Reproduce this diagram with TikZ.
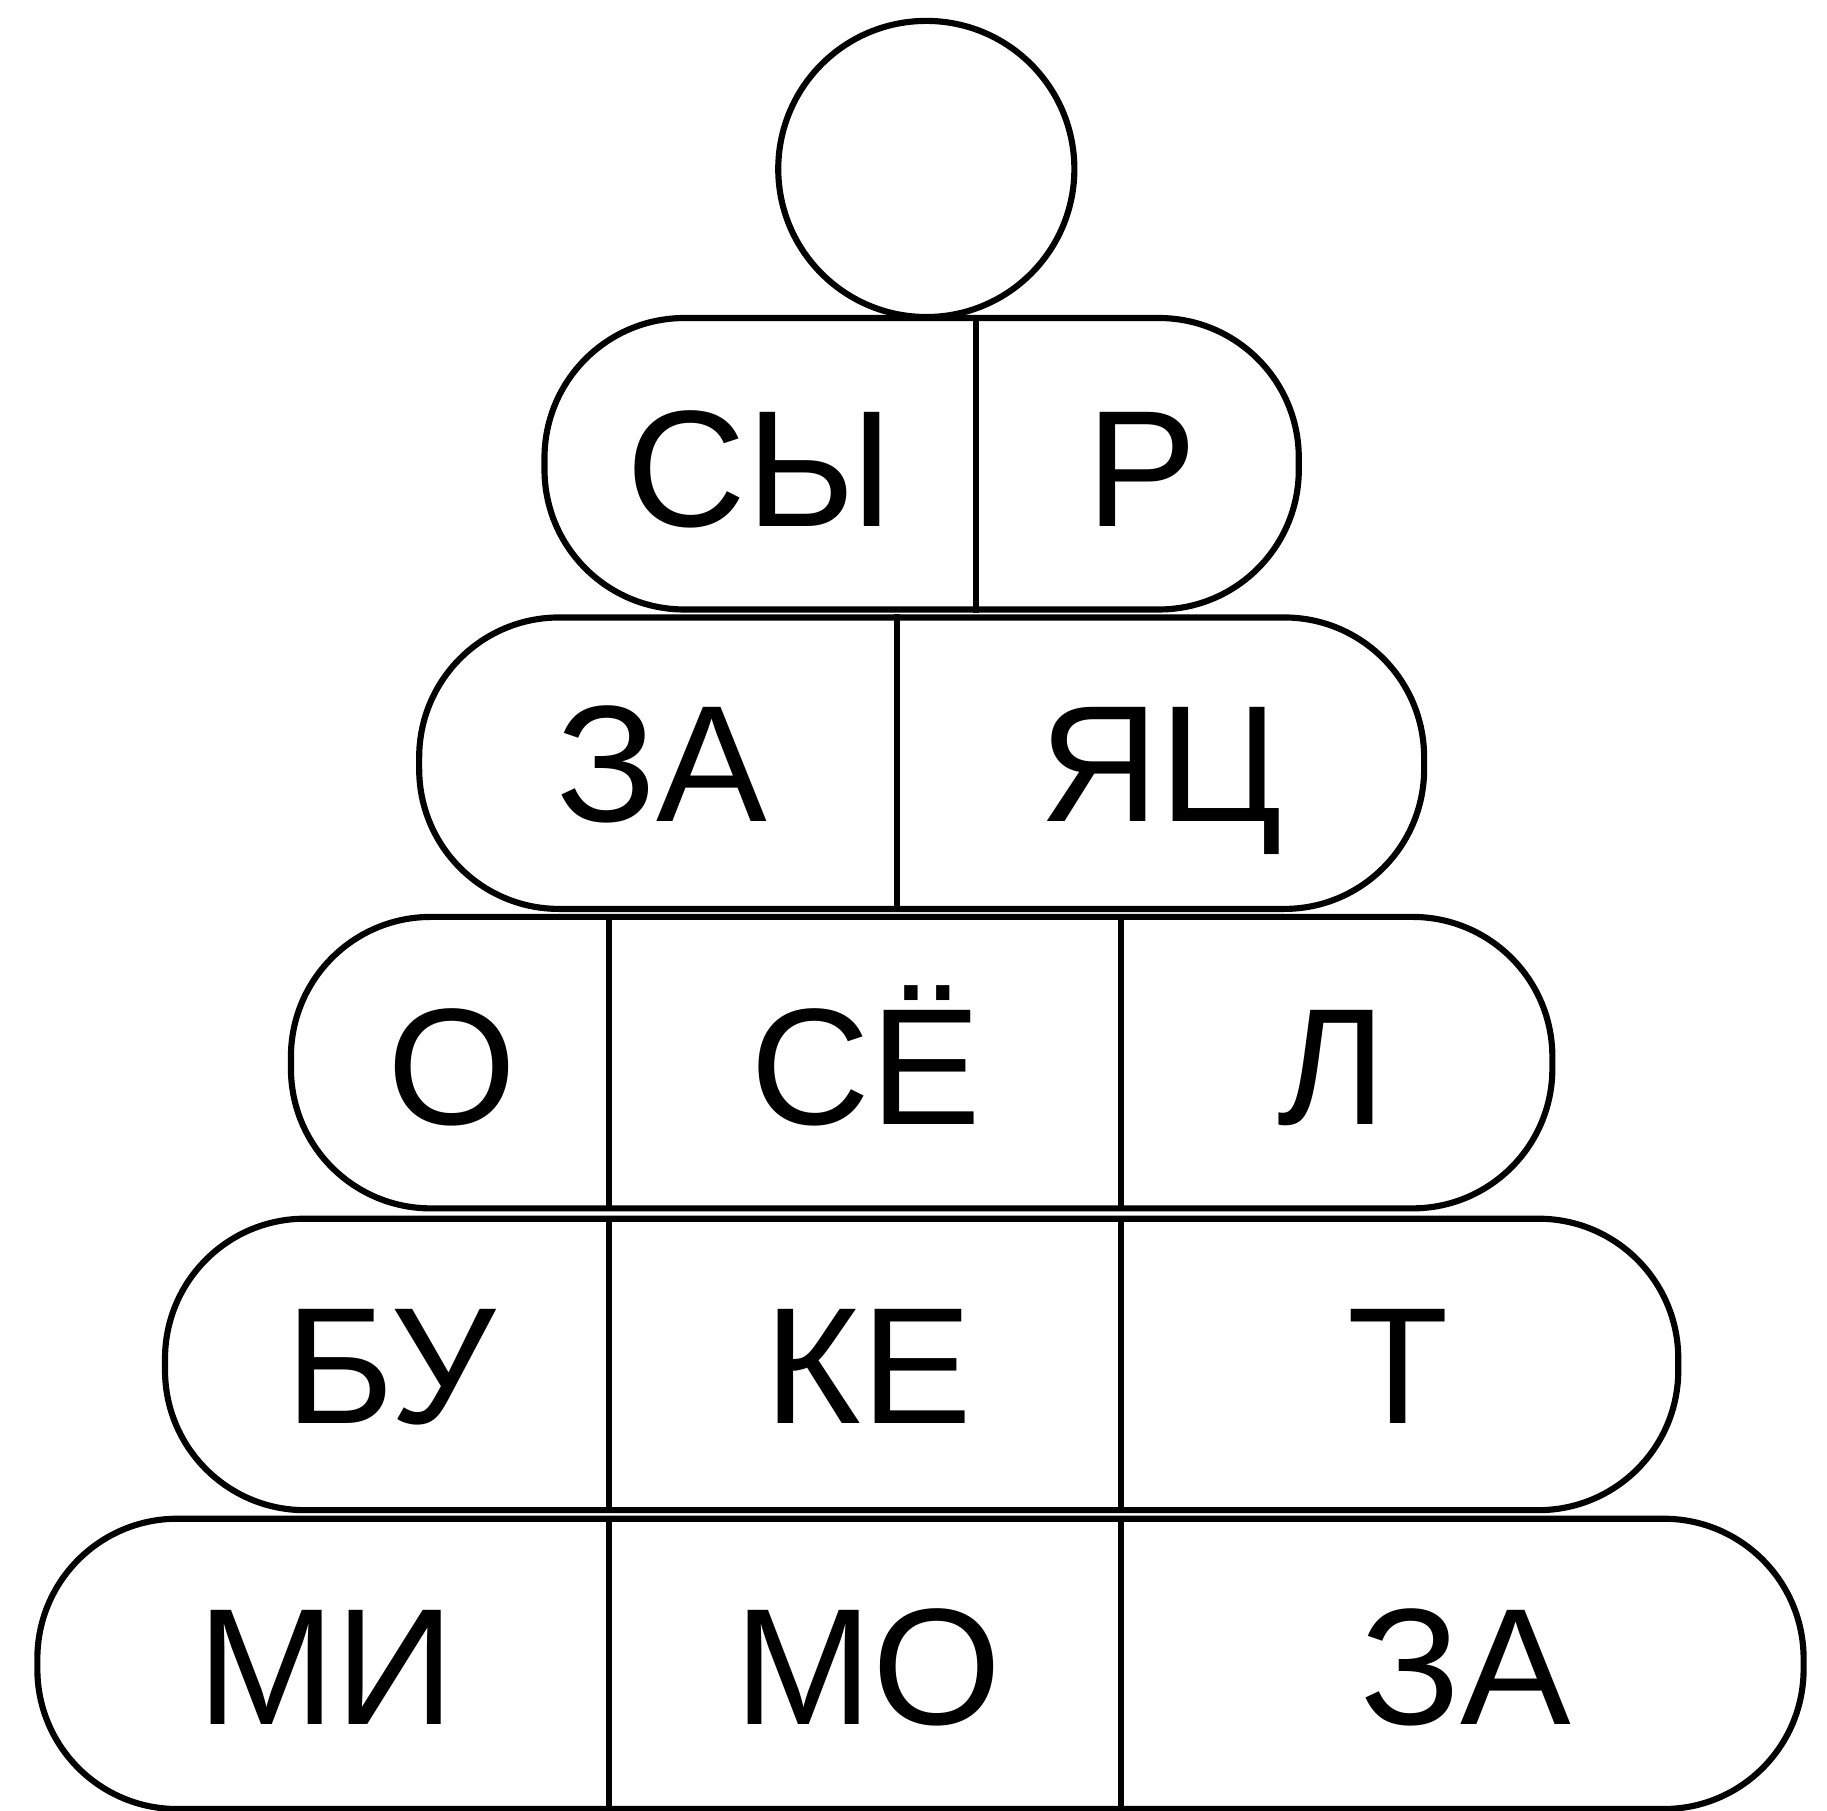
\documentclass[tikz,border=0pt]{standalone}
\usepackage{fontspec}
\setmainfont{Liberation Sans}
\usetikzlibrary{positioning}

\begin{document}
\begin{tikzpicture}[x=0.01cm, y=-0.01cm, line width=1.5pt,
  tier/.style={draw, rectangle, rounded corners=1.2cm, inner sep=0pt, minimum height=2.5cm},
  syl/.style={anchor=base, inner sep=0pt, font=\fontsize{40.5}{48}\selectfont}]
\useasboundingbox (0,0) rectangle (1568,1554);
% шарик сверху
\node[draw, circle, minimum size=2.54cm, inner sep=0pt] (ball) at (795,145) {};
% кольца пирамидки
\node[tier, minimum width=6.47cm]  (tier1) at (791,398)  {};
\node[tier, minimum width=8.62cm]  (tier2) at (791,655)  {};
\node[tier, minimum width=10.82cm] (tier3) at (791,912)  {};
\node[tier, minimum width=12.98cm] (tier4) at (791,1171) {};
\node[tier, minimum width=15.15cm, minimum height=2.49cm] (tier5) at (790,1428) {};
% перегородки
\draw (tier1.north -| 838,0) -- (tier1.south -| 838,0);
\draw (tier2.north -| 770,0) -- (tier2.south -| 770,0);
\foreach \r in {3,4,5}{
  \foreach \x in {523,962}
    \draw (tier\r.north -| \x,0) -- (tier\r.south -| \x,0);
}
% слоги
\node[syl] (s11) at (652,452)  {СЫ};
\node[syl] (s12) at (980,452)  {Р};
\node[syl] (s21) at (568,705)  {ЗА};
\node[syl] (s22) at (996,705)  {ЯЦ};
\node[syl] (s31) at (388,965)  {О};
\node[syl] (s32) at (743,965)  {СЁ};
\node[syl] (s33) at (1143,965) {Л};
\node[syl] (s41) at (335,1222) {БУ};
\node[syl] (s42) at (745,1222) {КЕ};
\node[syl] (s43) at (1200,1222) {Т};
\node[syl] (s51) at (280,1480) {МИ};
\node[syl] (s52) at (745,1480) {МО};
\node[syl] (s53) at (1258,1480) {ЗА};
\end{tikzpicture}
\end{document}
